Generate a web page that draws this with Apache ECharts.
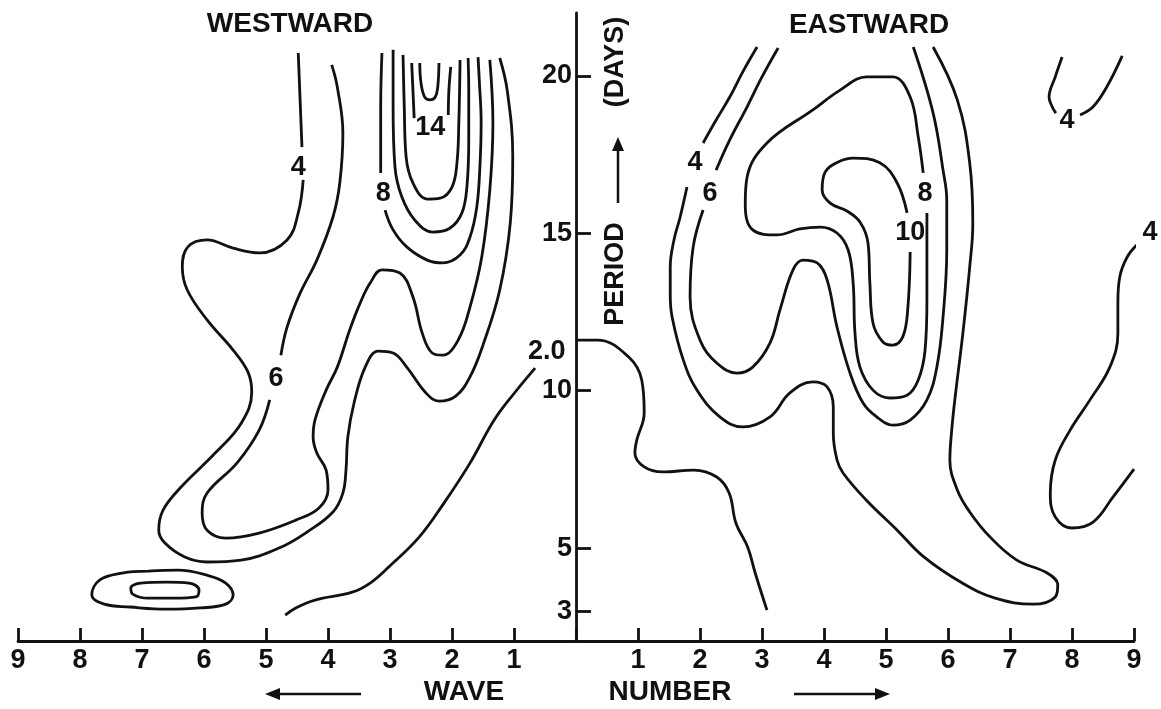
<!DOCTYPE html>
<html>
<head>
<meta charset="utf-8">
<title>Wave number - period spectrum</title>
<script src="https://cdn.jsdelivr.net/npm/echarts@6/dist/echarts.min.js"></script>
<style>
  html, body { margin: 0; padding: 0; background: #fff; }
  #chart { width: 1161px; height: 709px; }
</style>
</head>
<body>
<div id="chart"></div>
<script>
// axis ticks
const periodTicks = [3, 5, 10, 15, 20];

// contour lines, [wave number (west < 0), period in days]
const west4a = [[-4.48,20.73],[-4.45,19.24],[-4.42,17.74]];
const west4b = [[-4.40,16.70],[-4.48,15.65],[-4.66,14.79],[-5.10,14.38],[-5.53,14.53],[-5.95,14.79],[-6.26,14.57],[-6.35,13.93],[-6.27,13.20],[-5.95,12.25],[-5.53,11.29],[-5.29,10.59],[-5.23,9.96],[-5.40,8.97],[-5.82,8.02],[-6.37,6.94],[-6.66,6.21],[-6.73,5.57],[-6.63,5.16],[-6.31,4.72],[-5.95,4.56],[-5.40,4.62],[-4.76,5.03],[-4.34,5.51],[-3.92,6.15],[-3.76,6.75],[-3.71,7.48],[-3.68,8.53],[-3.58,9.61],[-3.40,10.75],[-3.19,11.26],[-2.95,11.20],[-2.73,10.75],[-2.42,9.93],[-2.21,9.67],[-1.94,9.83],[-1.71,10.44],[-1.50,11.45],[-1.23,13.20],[-1.06,15.33],[-1.02,17.43],[-1.11,19.55],[-1.23,20.57]];
const west6a = [[-3.94,20.35],[-3.85,19.65],[-3.76,18.19],[-3.81,16.60],[-3.92,15.52],[-4.18,14.15],[-4.45,13.10],[-4.66,12.02],[-4.76,11.13]];
const west6b = [[-4.94,9.71],[-5.11,8.75],[-5.47,7.70],[-5.95,6.75],[-6.03,6.12],[-5.95,5.57],[-5.65,5.32],[-5.11,5.48],[-4.52,5.89],[-4.15,6.27],[-4.00,6.85],[-4.03,7.48],[-4.18,8.02],[-4.24,8.53],[-4.21,9.07],[-4.03,10.02],[-3.85,10.75],[-3.65,11.93],[-3.48,12.79],[-3.32,13.42],[-3.13,13.84],[-2.84,13.74],[-2.63,12.98],[-2.48,11.83],[-2.32,11.20],[-2.15,11.13],[-1.90,11.61],[-1.71,12.66],[-1.52,14.25],[-1.39,16.38],[-1.34,18.51],[-1.39,20.51]];
const west8a = [[-3.13,20.73],[-3.15,19.02],[-3.15,16.92]];
const west8b = [[-3.08,15.74],[-2.95,15.11],[-2.73,14.57],[-2.40,14.15],[-2.15,14.06],[-1.87,14.31],[-1.71,14.88],[-1.60,15.84],[-1.55,17.11],[-1.53,18.51],[-1.56,19.87],[-1.58,20.60]];
const west10 = [[-2.95,20.83],[-2.95,19.02],[-2.92,17.11],[-2.81,16.16],[-2.60,15.42],[-2.31,15.04],[-2.03,15.17],[-1.84,15.65],[-1.76,16.47],[-1.73,17.97],[-1.73,19.55],[-1.74,20.57]];
const west12 = [[-2.79,20.67],[-2.77,19.02],[-2.74,17.43],[-2.63,16.60],[-2.40,16.09],[-2.19,16.12],[-2.00,16.47],[-1.92,17.24],[-1.89,18.51],[-1.87,20.51]];
const west14a = [[-2.65,20.41],[-2.63,19.55],[-2.61,18.66]];
const west14b = [[-2.06,18.76],[-2.05,19.55],[-2.02,20.29]];
const west16 = [[-2.52,20.41],[-2.50,19.78],[-2.44,19.33],[-2.35,19.24],[-2.27,19.33],[-2.23,19.65],[-2.21,20.41]];
const west2 = [[-4.69,2.87],[-4.52,3.10],[-4.21,3.35],[-3.61,3.60],[-3.32,3.89],[-3.02,4.40],[-2.53,5.35],[-2.13,6.43],[-1.71,7.70],[-1.32,9.07],[-0.98,9.96],[-0.66,10.72]];
const westOuterLoop = [[-6.90,4.27],[-6.42,4.30],[-5.95,4.14],[-5.65,3.89],[-5.53,3.51],[-5.65,3.22],[-6.06,3.10],[-6.60,3.06],[-7.19,3.13],[-7.61,3.22],[-7.81,3.51],[-7.68,3.99],[-7.32,4.21],[-6.90,4.27]];
const westInnerLoop = [[-6.60,3.92],[-6.24,3.89],[-6.08,3.67],[-6.13,3.45],[-6.48,3.41],[-6.90,3.41],[-7.15,3.54],[-7.18,3.73],[-7.02,3.89],[-6.60,3.92]];

const east2 = [[0,11.61],[0.35,11.61],[0.85,11.07],[1.06,10.34],[1.10,9.29],[0.98,8.43],[0.95,8.02],[1.10,7.58],[1.40,7.42],[1.90,7.48],[2.27,7.26],[2.47,6.75],[2.58,5.79],[2.77,5.03],[2.89,4.21],[3.08,3.03]];
const east4a = [[2.92,20.92],[2.69,20.13],[2.48,19.33],[2.26,18.60],[2.05,17.87]];
const east4b = [[1.79,16.47],[1.68,15.52],[1.58,14.79],[1.52,13.93],[1.52,13.04],[1.55,12.34],[1.73,10.98],[1.95,10.02],[2.32,9.17],[2.69,8.85],[3.13,9.17],[3.45,9.93],[3.82,10.28],[4.05,10.12],[4.15,9.48],[4.15,8.66],[4.21,7.80],[4.31,7.38],[4.68,6.53],[5.18,5.57],[5.61,4.72],[6.23,3.89],[6.76,3.41],[7.37,3.22],[7.73,3.45],[7.77,3.83],[7.60,4.21],[7.11,4.62],[6.68,5.35],[6.35,6.15],[6.15,6.85],[6.03,7.80],[6.06,8.75],[6.11,9.71],[6.24,11.83],[6.35,13.93],[6.40,15.30],[6.35,17.24],[6.15,19.24],[5.76,20.92]];
const east6a = [[3.26,20.89],[3.00,19.97],[2.76,19.02],[2.48,17.97],[2.26,17.01]];
const east6b = [[2.05,15.74],[1.89,14.57],[1.84,12.98],[2.00,11.61],[2.27,10.88],[2.60,10.56],[2.85,10.75],[3.13,11.52],[3.29,12.57],[3.50,13.84],[3.66,14.15],[3.89,14.06],[4.05,13.52],[4.21,12.02],[4.42,10.56],[4.63,9.61],[4.85,9.17],[5.11,8.91],[5.39,9.07],[5.66,9.71],[5.82,10.75],[5.92,12.34],[5.98,14.47],[5.98,16.06],[5.92,17.01],[5.76,18.82],[5.44,20.92]];
const east8 = [[5.66,15.65],[5.66,12.88],[5.63,11.29],[5.52,10.34],[5.34,9.86],[5.06,9.77],[4.79,10.02],[4.58,10.75],[4.50,11.83],[4.47,13.42],[4.39,14.47],[4.21,15.01],[3.94,15.20],[3.61,15.14],[3.24,14.95],[2.85,15.11],[2.73,15.96],[2.76,16.79],[3.08,17.87],[3.82,18.92],[4.26,19.55],[4.69,19.97],[5.11,19.97],[5.39,19.33],[5.52,18.06],[5.60,16.92]];
const east10 = [[5.39,14.41],[5.35,12.57],[5.27,11.71],[5.11,11.45],[4.95,11.55],[4.79,12.15],[4.74,13.42],[4.71,14.69],[4.58,15.36],[4.37,15.71],[4.10,15.96],[3.97,16.38],[4.02,16.95],[4.23,17.27],[4.47,17.39],[4.90,17.24],[5.18,16.60],[5.34,15.65]];
const east4c = [[7.84,20.60],[7.73,19.97],[7.63,19.33],[7.68,19.02],[7.74,18.82]];
const east4d = [[8.13,18.76],[8.34,19.02],[8.56,19.65],[8.81,20.64]];
const east4e = [[9.06,14.66],[8.89,14.25],[8.77,13.61],[8.74,12.79],[8.74,11.83],[8.61,10.75],[8.29,9.71],[7.97,8.75],[7.73,7.80],[7.65,6.75],[7.73,5.99],[8.00,5.64],[8.34,5.83],[8.66,6.62],[9.00,7.51]];

// contour value labels: [wave, period, text]
const contourLabels = [[-4.48,17.08,'4'],[-3.11,16.28,'8'],[-2.35,18.35,'14'],[-4.84,10.40,'6'],[-0.47,11.23,'2.0'],
  [1.92,17.24,'4'],[2.16,16.28,'6'],[5.63,16.28,'8'],[5.39,15.01,'10'],[7.92,18.57,'4'],[9.26,15.04,'4']];

const contours = [west4a, west4b, west6a, west6b, west8a, west8b, west10, west12, west14a, west14b, west16,
  west2, westOuterLoop, westInnerLoop, east2, east4a, east4b, east6a, east6b, east8, east10, east4c, east4d, east4e];

const ink = '#111';
const font = '"Liberation Sans", Arial, sans-serif';
const chart = echarts.init(document.getElementById('chart'));

const lineSeries = contours.map(c => ({
  type: 'line',
  data: c,
  smooth: 0.4,
  showSymbol: false,
  symbol: 'none',
  clip: false,
  silent: true,
  lineStyle: { color: ink, width: 2.8 }
}));

const labelSeries = {
  type: 'scatter',
  clip: false,
  silent: true,
  symbolSize: 1,
  itemStyle: { color: 'rgba(0,0,0,0)', opacity: 1 },
  data: contourLabels.map(d => ({ value: [d[0], d[1]], name: d[2] })),
  label: {
    show: true, position: 'inside', formatter: '{b}',
    color: ink, opacity: 1, fontSize: 27, fontWeight: 'bold', fontFamily: font
  }
}

const textStyle = (txt, size) => ({ text: txt, fill: ink, font: 'bold ' + size + 'px ' + font, align: 'center', verticalAlign: 'middle' });

chart.setOption({
  animation: false,
  backgroundColor: '#fff',
  grid: { left: 18, right: 27, top: 13, bottom: 68, outerBoundsMode: 'none' },
  xAxis: {
    type: 'value', min: -9, max: 9, interval: 1,
    axisLine: { lineStyle: { color: ink, width: 2.8 } },
    axisTick: { inside: true, length: 13, lineStyle: { color: ink, width: 2.8 } },
    axisLabel: {
      margin: 6, color: ink, fontSize: 27, fontWeight: 'bold', fontFamily: font,
      formatter: v => (v === 0 ? '' : String(Math.abs(v)))
    },
    splitLine: { show: false }
  },
  yAxis: {
    type: 'value', min: 2.05, max: 22,
    // the period axis stands at wave number 0, in the middle of the grid
    offset: -558,
    axisLine: { onZero: false, lineStyle: { color: ink, width: 2.8 } },
    axisTick: { inside: true, length: 15, customValues: periodTicks, lineStyle: { color: ink, width: 2.8 } },
    axisLabel: {
      customValues: periodTicks, margin: 4, color: ink, fontSize: 27, fontWeight: 'bold', fontFamily: font
    },
    splitLine: { show: false }
  },
  graphic: [
    { type: 'text', x: 290, y: 24, style: textStyle('WESTWARD', 28) },
    { type: 'text', x: 869, y: 25, style: textStyle('EASTWARD', 28) },
    { type: 'text', x: 464, y: 692, style: textStyle('WAVE', 28) },
    { type: 'text', x: 670, y: 692, style: textStyle('NUMBER', 28) },
    { type: 'text', x: 616, y: 274, rotation: Math.PI / 2, style: textStyle('PERIOD', 27) },
    { type: 'text', x: 616, y: 62, rotation: Math.PI / 2, style: textStyle('(DAYS)', 27) },
    { type: 'line', shape: { x1: 618, y1: 203, x2: 618, y2: 146 }, style: { stroke: ink, lineWidth: 2.5 } },
    { type: 'polygon', shape: { points: [[612, 151], [618, 137], [624, 151]] }, style: { fill: ink } },
    { type: 'line', shape: { x1: 276, y1: 694, x2: 361, y2: 694 }, style: { stroke: ink, lineWidth: 2.5 } },
    { type: 'polygon', shape: { points: [[280, 688], [265, 694], [280, 700]] }, style: { fill: ink } },
    { type: 'line', shape: { x1: 794, y1: 694, x2: 879, y2: 694 }, style: { stroke: ink, lineWidth: 2.5 } },
    { type: 'polygon', shape: { points: [[875, 688], [890, 694], [875, 700]] }, style: { fill: ink } }
  ],
  series: lineSeries.concat([labelSeries])
});
</script>
</body>
</html>
